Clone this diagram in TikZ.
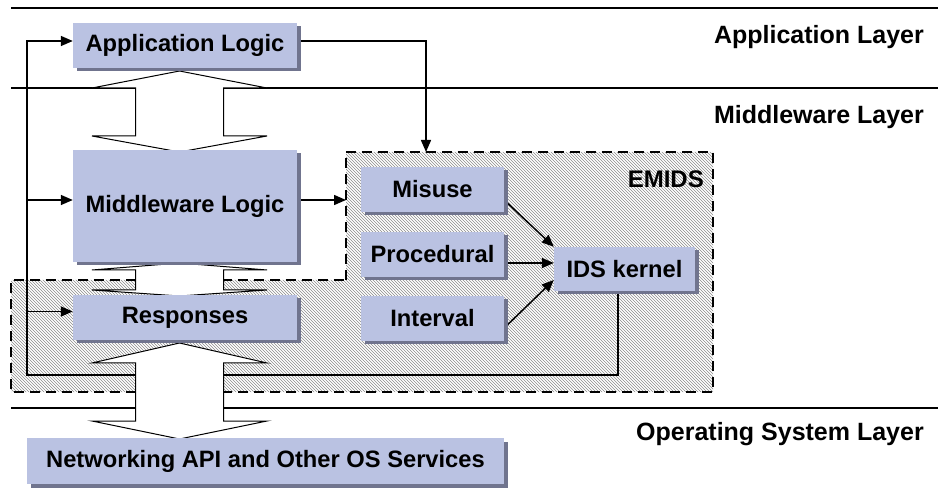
\documentclass[tikz,border=0pt]{standalone}
\usepackage{fontspec}
\setmainfont{Liberation Sans}
\usetikzlibrary{arrows.meta,patterns,shadows}
\definecolor{boxc}{RGB}{186,194,226}
\definecolor{shadc}{RGB}{112,116,142}
\pgfdeclarelayer{bg}
\pgfdeclarelayer{mid}
\pgfsetlayers{bg,mid,main}
\tikzset{
  blk/.style={fill=boxc, inner sep=0pt, font=\bfseries\fontsize{23.7}{28}\selectfont,
    drop shadow={shadow xshift=3.5pt, shadow yshift=-3.5pt, fill=shadc, opacity=1}},
  conn/.style={line width=1.5pt, -{Triangle[length=12pt,width=10pt]}},
  layerline/.style={line width=1.6pt},
  lbl/.style={anchor=base east, inner sep=0pt, font=\bfseries\fontsize{25}{30}\selectfont},
  dbl/.style={draw=black, fill=white, line width=1pt, line join=miter},
  zone/.style={draw=black, line width=1.5pt, dash pattern=on 10pt off 6pt},
}
\newcommand\dblarr[5]{%
  \draw[dbl] (#1,#2) -- (#1+87.5,#3) -- (#1+44,#3) -- (#1+44,#4) -- (#1+87.5,#4) -- (#1,#5)
    -- (#1-87.5,#4) -- (#1-44,#4) -- (#1-44,#3) -- (#1-87.5,#3) -- cycle;}
\begin{document}
\begin{tikzpicture}[x=1pt,y=-1pt]
\useasboundingbox (0,0) rectangle (938,489);

% boxes
\node[blk, minimum width=224pt, minimum height=45pt] (app) at (185,45.5) {Application Logic};
\node[blk, minimum width=224pt, minimum height=112pt] (mid) at (185,206) {Middleware Logic};
\node[blk, minimum width=224pt, minimum height=45pt] (resp) at (185,317.5) {Responses};
\node[blk, minimum width=477pt, minimum height=46pt] (net) at (265.5,461) {Networking API and Other OS Services};
\node[blk, minimum width=143pt, minimum height=45pt] (mis) at (432.5,189.5) {Misuse};
\node[blk, minimum width=143pt, minimum height=45pt] (proc) at (432.5,254.5) {Procedural};
\node[blk, minimum width=143pt, minimum height=45pt] (intv) at (432.5,318.5) {Interval};
\node[blk, minimum width=141pt, minimum height=44pt] (ids) at (624.5,269) {IDS kernel};

% labels
\node[lbl] (l1) at (924,44) {Application Layer};
\node[lbl] (l2) at (924,124) {Middleware Layer};
\node[lbl] (l3) at (924,440) {Operating System Layer};
\node[lbl, font=\bfseries\fontsize{24}{28}\selectfont] (l4) at (704,188) {EMIDS};

\coordinate (ztop) at (426,152);
\coordinate (zleft) at (346,200);
\coordinate (lc) at (27,375);
\coordinate (tc) at (27,41);
\coordinate (appin) at ([yshift=4.5pt]app.west);
\coordinate (appout) at ([yshift=4.5pt]app.east);
\coordinate (midin) at ([yshift=6pt]mid.west);
\coordinate (midout) at ([yshift=6pt]mid.east);
\coordinate (respin) at ([yshift=6pt]resp.west);
\coordinate (misout) at ([yshift=-10.5pt]mis.east);
\coordinate (procout) at ([yshift=-8.5pt]proc.east);
\coordinate (intvout) at ([yshift=-9.5pt]intv.east);
\coordinate (idsin) at ([yshift=-11pt]ids.west);
\coordinate (idsout) at ([xshift=-6.5pt]ids.south);

\begin{pgfonlayer}{bg}
  \fill[white] (346,152) -- (713,152) -- (713,392) -- (11,392) -- (11,280) -- (346,280) -- cycle;
  \fill[pattern=north west lines, pattern color=black!45] (346,152) -- (713,152) -- (713,392) -- (11,392) -- (11,280) -- (346,280) -- cycle;
  \draw[layerline] (11,8) -- (938,8);
  \draw[layerline] (11,88) -- (938,88);
  \draw[layerline] (11,408) -- (938,408);
  \draw[zone] (346,280) -- (346,152) -- (713,152) -- (713,392) -- (11,392) -- (11,280) -- cycle;
  % connectors
  \draw[conn] (appout) -| (ztop);
  \draw[conn] (midout) -- (zleft);
  \draw[conn] (idsout) |- (lc) -- (tc) -- (appin);
  \draw[conn] (tc |- midin) -- (midin);
  \draw[conn] (tc |- respin) -- (respin);
  \draw[conn] (misout) -- (ids.north west);
  \draw[conn] (procout) -- (procout -| ids.west);
  \draw[conn] (intvout) -- (idsin);
\end{pgfonlayer}

\begin{pgfonlayer}{mid}
  \dblarr{179.5}{71}{88}{136}{152}
  \dblarr{179.5}{263}{270}{290}{296}
  \dblarr{179.5}{343}{363}{421}{439}
\end{pgfonlayer}
\end{tikzpicture}
\end{document}
